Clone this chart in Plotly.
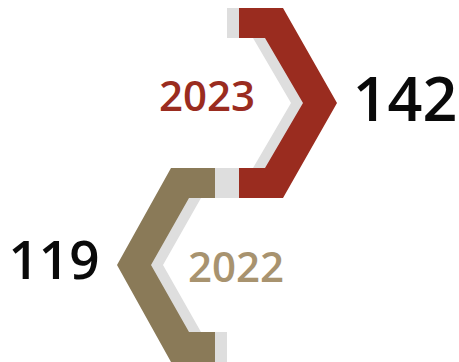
import plotly.graph_objects as go

# data
years = ["2023", "2022"]
values = [142, 119]
bar_colors = ["#9a2c1f", "#8a7a58"]
year_colors = ["#9a2c1f", "#a8936f"]
shadow_color = "#dedede"

# layout of each chevron: base x, top y, bottom y, pointing direction
bases = [239, 215]
tops = [8, 168]
bottoms = [198, 362]
dirs = [1, -1]


def chevron(x0, y0, y1, d, shift=0):
    # outline of a chevron with horizontal arms, pointing in direction d
    ym = (y0 + y1) / 2
    xs = [0, 44, 98, 44, 0, 0, 26, 64, 26, 0, 0]
    ys = [y0, y0, ym, y1, y1, y1 - 30, y1 - 30, ym, y0 + 30, y0 + 30, y0]
    return [x0 + d * (v - shift) for v in xs], ys


fig = go.Figure()

for i in range(len(years)):
    sx, sy = chevron(bases[i], tops[i], bottoms[i], dirs[i], shift=12)
    fig.add_trace(go.Scatter(x=sx, y=sy, fill="toself", fillcolor=shadow_color,
                             mode="lines", line=dict(width=0), hoverinfo="skip"))
for i in range(len(years)):
    cx, cy = chevron(bases[i], tops[i], bottoms[i], dirs[i])
    fig.add_trace(go.Scatter(x=cx, y=cy, fill="toself", fillcolor=bar_colors[i],
                             mode="lines", line=dict(width=0), hoverinfo="skip"))

# year labels inside the chevrons, values at the tips
year_x = [207, 236]
year_y = [100, 271]
val_x = [405, 54]
val_y = [106, 266]

for i in range(len(years)):
    fig.add_trace(go.Scatter(x=[year_x[i]], y=[year_y[i]], mode="text", text=[years[i]],
                             textfont=dict(family="Open Sans", size=42, weight=600, color=year_colors[i]),
                             textposition="middle center", hoverinfo="skip"))
    fig.add_trace(go.Scatter(x=[val_x[i]], y=[val_y[i]], mode="text", text=[str(values[i])],
                             textfont=dict(family="Open Sans", size=[61, 53][i], weight=600, color="#0a0a0a"),
                             textposition="middle center", hoverinfo="skip"))

fig.update_layout(width=459, height=362, margin=dict(l=0, r=0, t=0, b=0),
                  showlegend=False, plot_bgcolor="white", paper_bgcolor="white",
                  xaxis=dict(range=[0, 459], visible=False, fixedrange=True),
                  yaxis=dict(range=[362, 0], visible=False, fixedrange=True))

fig.write_html("out.html", config={"displayModeBar": False},
               post_script="document.body.style.margin='0';")
